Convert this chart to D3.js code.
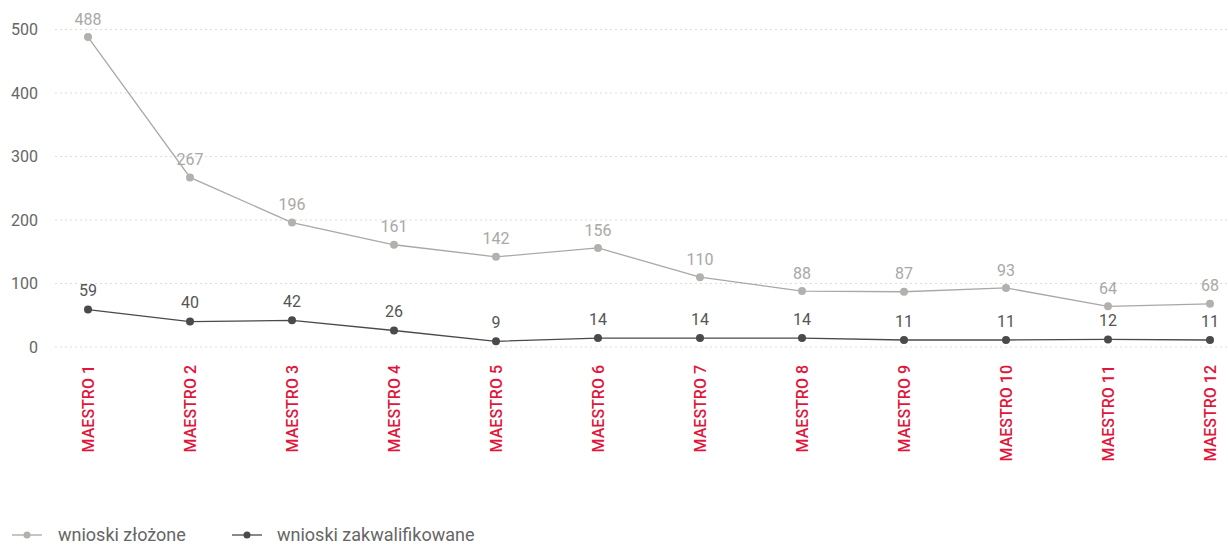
<!DOCTYPE html>
<html><head><meta charset="utf-8">
<script src="https://cdn.jsdelivr.net/npm/d3@7"></script>
<style>body{margin:0;background:#fff;} svg{display:block;font-family:Roboto,"Noto Sans",sans-serif;}</style>
</head><body><svg id="c" width="1228" height="546"></svg>
<script>
const categories = ["MAESTRO 1","MAESTRO 2","MAESTRO 3","MAESTRO 4","MAESTRO 5","MAESTRO 6","MAESTRO 7","MAESTRO 8","MAESTRO 9","MAESTRO 10","MAESTRO 11","MAESTRO 12"];
const submitted = [488,267,196,161,142,156,110,88,87,93,64,68];
const qualified = [59,40,42,26,9,14,14,14,11,11,12,11];
const yTicks = [0,100,200,300,400,500];
const seriesNames = ["wnioski złożone","wnioski zakwalifikowane"];

const svg = d3.select("#c");
const x = d3.scalePoint().domain(categories).range([88,1210]);
const y = d3.scaleLinear().domain([0,500]).range([347,29.5]);

const grid = svg.append("g");
grid.selectAll("line").data(yTicks).join("line")
  .attr("x1",55).attr("x2",1228).attr("y1",d=>y(d)).attr("y2",d=>y(d))
  .attr("stroke","#dcdcdc").attr("stroke-width",1).attr("stroke-dasharray","2,3");

const yAxis = svg.append("g").attr("transform","translate(38,0)")
  .call(d3.axisLeft(y).tickValues(yTicks).tickSize(0).tickPadding(0));
yAxis.select(".domain").remove();
yAxis.selectAll("text").attr("font-size",16).attr("fill","#666").attr("font-family","Roboto,sans-serif");

const xAxis = svg.append("g").attr("transform","translate(0,360)")
  .call(d3.axisBottom(x).tickSize(0).tickPadding(0));
xAxis.select(".domain").remove();
xAxis.selectAll("text").attr("transform","rotate(-90)").attr("text-anchor","end")
  .attr("x",-5).attr("y",0).attr("dy","0.35em").attr("dx",0)
  .attr("font-size",16).attr("font-weight",500).attr("fill","#e0163b").attr("font-family","Roboto,sans-serif");

const series = [
  {name:seriesNames[0], values:submitted, color:"#aaa8a6", dot:"#b3b1ae", label:"#aaa8a6", dy:-18},
  {name:seriesNames[1], values:qualified, color:"#4a4a4a", dot:"#4a4a4a", label:"#555", dy:-19}
];
const line = d3.line().x((d,i)=>x(categories[i])).y(d=>y(d));
series.forEach(s=>{
  const g = svg.append("g");
  g.append("path").datum(s.values).attr("d",line).attr("fill","none").attr("stroke",s.color).attr("stroke-width",1.3);
  g.selectAll("circle").data(s.values).join("circle")
    .attr("cx",(d,i)=>x(categories[i])).attr("cy",d=>y(d)).attr("r",4).attr("fill",s.dot);
  g.selectAll("text").data(s.values).join("text")
    .attr("x",(d,i)=>x(categories[i])).attr("y",d=>y(d)+s.dy).attr("dy","0.35em")
    .attr("text-anchor","middle").attr("font-size",16).attr("fill",s.label).text(d=>d);
});

const legend = svg.append("g").attr("transform","translate(0,535)");
const lx = [[12,58],[232,277]];
series.forEach((s,i)=>{
  const g = legend.append("g");
  g.append("line").attr("x1",lx[i][0]).attr("x2",lx[i][0]+30).attr("y1",0).attr("y2",0).attr("stroke",s.color).attr("stroke-width",1.3);
  g.append("circle").attr("cx",lx[i][0]+15).attr("cy",0).attr("r",3.5).attr("fill",s.dot);
  g.append("text").attr("x",lx[i][1]).attr("y",0).attr("dy","0.32em").attr("font-size",18).attr("fill","#666").text(s.name);
});
</script></body></html>
